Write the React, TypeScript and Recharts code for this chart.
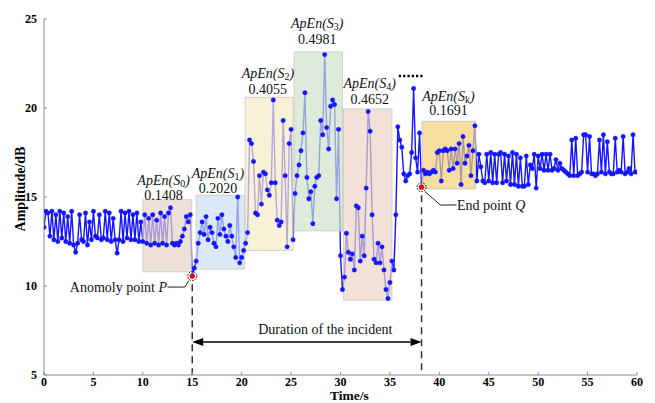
import React from 'react';
import { LineChart, Line, XAxis, YAxis, ReferenceArea, ReferenceLine, ReferenceDot, Label } from 'recharts';

const STEP = 0.2;
const FONT = '"Liberation Serif", "Times New Roman", Times, serif';

// amplitude readings (dB), each block starts at the given time and advances by STEP seconds
const normalStart = 0.0;
const normalValues = [
  13.3, 14.2, 14.1, 12.8, 14.2, 12.6, 14.0, 12.5, 14.2, 12.7,
  14.1, 12.5, 13.9, 12.4, 14.2, 12.3, 11.9, 12.4, 14.0, 12.6,
  12.5, 14.1, 12.3, 13.6, 12.6, 14.2, 12.8, 12.7, 14.0, 12.6,
  12.7, 14.2, 12.6, 14.1, 12.5, 13.8, 12.6, 11.85, 12.6, 14.2,
  12.5, 14.1, 12.7, 14.2, 12.6, 14.0, 12.6, 14.1, 12.5, 13.6,
];
const s0Start = 10.0;
const s0Values = [
  12.5, 14.0, 12.4, 13.8, 12.3, 14.0, 12.4, 13.7, 12.3, 14.1,
  12.4, 13.9, 12.3, 14.1, 14.4, 12.4, 12.3, 12.4, 12.3, 12.5,
  12.8, 13.2, 13.9, 13.6, 14.0,
];
const pStart = 15.0;
const pValues = [10.56];
const s1Start = 15.2;
const s1Values = [
  11.0, 11.4, 12.4, 13.0, 13.6, 12.9, 13.9, 12.6, 13.3, 13.0,
  12.4, 12.2, 13.8, 12.9, 14.0, 13.2, 12.8, 12.5, 13.4, 12.8,
  12.2, 11.6, 15.0, 11.3, 11.6, 12.0,
];
const s2Start = 20.4;
const s2Values = [
  12.4, 13.0, 18.2, 18.0, 17.0, 14.1, 14.0, 16.2, 14.6, 16.4,
  16.3, 15.4, 15.1, 15.8, 20.45, 15.8, 13.7, 13.4, 13.6, 19.3,
  16.2, 12.2, 18.0, 18.8, 12.6,
];
const s3Start = 25.4;
const s3Values = [
  15.2, 16.2, 16.8, 17.6, 18.6, 20.86, 16.1, 14.9, 15.3, 13.5,
  15.6, 16.1, 16.2, 19.3, 18.5, 23.0, 18.9, 17.7, 20.1, 20.45,
  20.2, 14.9, 18.8, 11.7, 9.8,
];
const s4Start = 30.4;
const s4Values = [
  10.5, 12.96, 11.9, 11.5, 11.8, 10.9, 14.5, 14.4, 11.4, 12.8,
  11.7, 15.5, 19.8, 18.7, 14.0, 11.5, 11.3, 12.4, 11.3, 12.2,
  10.9, 9.8, 9.3, 10.2,
];
const recoveryStart = 35.2;
const recoveryValues = [
  11.4, 10.9, 14.0, 18.95, 18.2, 17.8, 16.3, 15.9, 16.2, 16.3,
  17.5, 21.1, 17.2, 16.4, 18.6, 15.55,
];
const skStart = 38.4;
const skValues = [
  16.5, 16.3, 16.4, 16.3, 16.4, 16.5, 16.4, 17.5, 17.6, 15.9,
  17.6, 17.7, 17.6, 16.5, 17.7, 16.6, 17.7, 16.9, 18.0, 15.7,
  18.4, 16.9, 17.3, 17.9, 16.2, 17.6, 19.0,
];
const tailStart = 43.8;
const tailValues = [
  15.9, 17.4, 16.7, 15.9, 15.8, 17.4, 15.9, 17.5, 15.8, 17.4,
  15.8, 17.4, 17.5, 15.8, 17.4, 15.9, 17.3, 15.7, 17.5, 15.7,
  17.4, 15.6, 17.2, 15.6, 15.6, 17.3, 15.7, 16.8, 16.6, 17.4,
  15.5, 17.3, 16.6, 17.4, 16.5, 17.4, 16.5, 17.4, 16.5, 16.6,
  17.1, 16.5, 16.9, 16.6, 16.5, 16.4, 16.3, 16.2, 18.2, 16.2,
  18.3, 16.2, 16.3, 16.4, 18.5, 18.5, 16.4, 18.4, 16.3, 16.3,
  16.2, 16.3, 18.2, 16.4, 18.5, 16.3, 18.1, 16.4, 16.3, 16.3,
  18.3, 16.4, 16.5, 16.4, 18.4, 16.3, 16.4, 16.6, 16.3, 18.5,
  16.4, 16.4,
];

const blocks: [number, number[]][] = [
  [normalStart, normalValues], [s0Start, s0Values], [pStart, pValues], [s1Start, s1Values],
  [s2Start, s2Values], [s3Start, s3Values], [s4Start, s4Values], [recoveryStart, recoveryValues],
  [skStart, skValues], [tailStart, tailValues],
];
const data = blocks.flatMap(([start, vals]) =>
  vals.map((v, i) => ({ t: Math.round((start + i * STEP) * 100) / 100, v }))
);

// analysis windows
const windowSubs = ['0', '1', '2', '3', '4', 'k'];
const windowApEn = ['0.1408', '0.2020', '0.4055', '0.4981', '0.4652', '0.1691'];
const windowX1 = [10.0, 15.4, 20.35, 25.3, 30.3, 38.25];
const windowX2 = [14.95, 20.3, 25.2, 30.2, 35.2, 43.65];
const windowY1 = [10.8, 10.95, 12.0, 13.1, 9.2, 15.45];
const windowY2 = [14.85, 15.1, 20.6, 23.15, 19.95, 19.25];
const windowColors = ['#e5d3c4', '#cddef1', '#f5ebc6', '#d0e1ca', '#ebd4c6', '#f2d077'];
const labelT = [12.1, 17.6, 22.65, 27.65, 32.95, 40.92];
const labelApEnV = [15.96, 16.33, 21.95, 24.8, 21.39, 20.69];
const labelValueV = [15.11, 15.49, 21.05, 23.85, 20.49, 19.86];

// events
const pointP = { t: 15.0, v: 10.56 };
const pointQ = { t: 38.2, v: 15.55 };
const durationV = 6.85;

const xTicks = [0, 5, 10, 15, 20, 25, 30, 35, 40, 45, 50, 55, 60];
const yTicks = [5, 10, 15, 20, 25];

const BLUE = '#1414ff';
const serif = { fontFamily: FONT };

const XTick = (p: any) => (
  <g>
    <line x1={p.x} x2={p.x} y1={p.y - 4} y2={p.y - 7} stroke="#8c8c8c" />
    <text x={p.x} y={p.y + 7} textAnchor="middle" style={serif} fontWeight="bold" fontSize={12} fill="#000">
      {p.payload.value}
    </text>
  </g>
);
const YTick = (p: any) => (
  <g>
    <line x1={p.x + 7} x2={p.x + 10} y1={p.y} y2={p.y} stroke="#8c8c8c" />
    <text x={p.x} y={p.y + 4} textAnchor="end" style={serif} fontWeight="bold" fontSize={12} fill="#000">
      {p.payload.value}
    </text>
  </g>
);

const ApEnText = (sub: string) => (p: any) => (
  <text x={p.cx} y={p.cy} textAnchor="middle" dominantBaseline="central" style={serif} fontSize={14} fill="#111">
    <tspan fontStyle="italic">ApEn(S</tspan>
    <tspan fontSize={10} dy={3}>{sub}</tspan>
    <tspan fontStyle="italic" dy={-3}>)</tspan>
  </text>
);
const PlainText = (txt: string, anchor: string) => (p: any) => (
  <text x={p.cx} y={p.cy} textAnchor={anchor} dominantBaseline="central" style={serif} fontSize={14} fill="#111">
    {txt}
  </text>
);
const PointLabel = (txt: string, letter: string, anchor: string) => (p: any) => (
  <text x={p.cx} y={p.cy} textAnchor={anchor} dominantBaseline="central" style={serif} fontSize={14} fill="#111">
    {txt}
    <tspan fontStyle="italic">{letter}</tspan>
  </text>
);
const EventMarker = (p: any) => (
  <g>
    <circle cx={p.cx} cy={p.cy} r={4.5} fill="#fff" fillOpacity={0.3} stroke="#000" strokeWidth={1} strokeDasharray="1.5 1.3" />
    <circle cx={p.cx} cy={p.cy} r={2.6} fill="#ff0000" />
  </g>
);
const ArrowShape = (p: any) => {
  const { x1, y1, x2, y2 } = p;
  const L = 11, H = 4;
  return (
    <g>
      <line x1={x1 + L} y1={y1} x2={x2 - L} y2={y2} stroke="#000" strokeWidth={1.6} />
      <polygon points={`${x1},${y1} ${x1 + L},${y1 - H} ${x1 + L},${y1 + H}`} fill="#000" />
      <polygon points={`${x2},${y2} ${x2 - L},${y2 - H} ${x2 - L},${y2 + H}`} fill="#000" />
    </g>
  );
};
const LeaderP = (p: any) => {
  const { x1, y1, x2, y2 } = p;
  return <path d={`M${x1},${y1} H${x2 - 4} L${x2},${y2}`} stroke="#222" strokeWidth={1} fill="none" />;
};
const LeaderQ = (p: any) => {
  const { x1, y1, x2, y2 } = p;
  return <path d={`M${x1},${y1} L${x2 - 16},${y2} H${x2}`} stroke="#222" strokeWidth={1} fill="none" />;
};

export default function App() {
  return (
    <div style={{ position: 'absolute', left: 0, top: 0, background: '#fff', fontFamily: FONT }}>
      <LineChart width={655} height={403} data={data} margin={{ top: 19, right: 18, bottom: 8, left: 8 }} style={serif}>
        <XAxis
          dataKey="t"
          type="number"
          domain={[0, 60]}
          ticks={xTicks}
          height={20}
          tickSize={0}
          tickMargin={4}
          tick={<XTick />}
          axisLine={{ stroke: '#8c8c8c' }}
          allowDataOverflow
        >
          <Label
            content={(props: any) => {
              const vb = props.viewBox;
              return (
                <text x={vb.x + vb.width / 2 + 9} y={399.5} textAnchor="middle" style={serif} fontWeight="bold" fontSize={13.5} fill="#000">
                  Time/s
                </text>
              );
            }}
          />
        </XAxis>
        <YAxis
          type="number"
          domain={[5, 25]}
          ticks={yTicks}
          width={36}
          tickSize={0}
          tickMargin={7}
          tick={<YTick />}
          axisLine={{ stroke: '#8c8c8c' }}
          allowDataOverflow
        >
          <Label
            content={(props: any) => {
              const vb = props.viewBox;
              const cx = vb.x + 12;
              const cy = vb.y + vb.height / 2 - 8;
              return (
                <text x={cx} y={cy} transform={`rotate(-90 ${cx} ${cy})`} textAnchor="middle" dominantBaseline="central" style={serif} fontWeight="bold" fontSize={14} fill="#000">
                  Amplitude/dB
                </text>
              );
            }}
          />
        </YAxis>
        <Line
          type="linear"
          dataKey="v"
          stroke={BLUE}
          strokeWidth={1.4}
          dot={{ r: 2.2, fill: BLUE, stroke: BLUE, strokeWidth: 0.4 }}
          activeDot={false}
          isAnimationActive={false}
        />
        {windowSubs.map((s, i) => (
          <ReferenceArea
            key={'w' + s}
            x1={windowX1[i]}
            x2={windowX2[i]}
            y1={windowY1[i]}
            y2={windowY2[i]}
            fill={windowColors[i]}
            fillOpacity={0.7}
            stroke="#c8c8c8"
            strokeWidth={0.8}
            zIndex={450}
          />
        ))}
        {windowSubs.map((s, i) => (
          <ReferenceDot key={'a' + s} x={labelT[i]} y={labelApEnV[i]} r={0} shape={ApEnText(s)} zIndex={700} />
        ))}
        {windowSubs.map((s, i) => (
          <ReferenceDot key={'v' + s} x={labelT[i]} y={labelValueV[i]} r={0} shape={PlainText(windowApEn[i], 'middle')} zIndex={700} />
        ))}
        <ReferenceLine segment={[{ x: 35.9, y: 21.8 }, { x: 38.45, y: 21.8 }]} stroke="#000" strokeWidth={2.5} strokeDasharray="2.3 2" zIndex={700} />
        <ReferenceLine segment={[{ x: pointP.t, y: 10.1 }, { x: pointP.t, y: 5 }]} stroke="#333" strokeWidth={1.5} strokeDasharray="7 5" zIndex={700} />
        <ReferenceLine segment={[{ x: pointQ.t, y: 15.1 }, { x: pointQ.t, y: 5 }]} stroke="#333" strokeWidth={1.5} strokeDasharray="7 5" zIndex={700} />
        <ReferenceLine segment={[{ x: pointP.t, y: durationV }, { x: pointQ.t, y: durationV }]} shape={ArrowShape} zIndex={700} />
        <ReferenceDot x={28.46} y={7.58} r={0} shape={PlainText('Duration of the incident', 'middle')} zIndex={700} />
        <ReferenceLine segment={[{ x: 12.5, y: 9.94 }, { x: 14.65, y: 10.3 }]} shape={LeaderP} zIndex={700} />
        <ReferenceLine segment={[{ x: 38.55, y: 15.3 }, { x: 41.73, y: 14.55 }]} shape={LeaderQ} zIndex={700} />
        <ReferenceDot x={12.45} y={9.94} r={0} shape={PointLabel('Anomoly point ', 'P', 'end')} zIndex={700} />
        <ReferenceDot x={41.78} y={14.55} r={0} shape={PointLabel('End point ', 'Q', 'start')} zIndex={700} />
        <ReferenceDot x={pointP.t} y={pointP.v} r={4} shape={EventMarker} zIndex={800} />
        <ReferenceDot x={pointQ.t} y={pointQ.v} r={4} shape={EventMarker} zIndex={800} />
      </LineChart>
    </div>
  );
}
